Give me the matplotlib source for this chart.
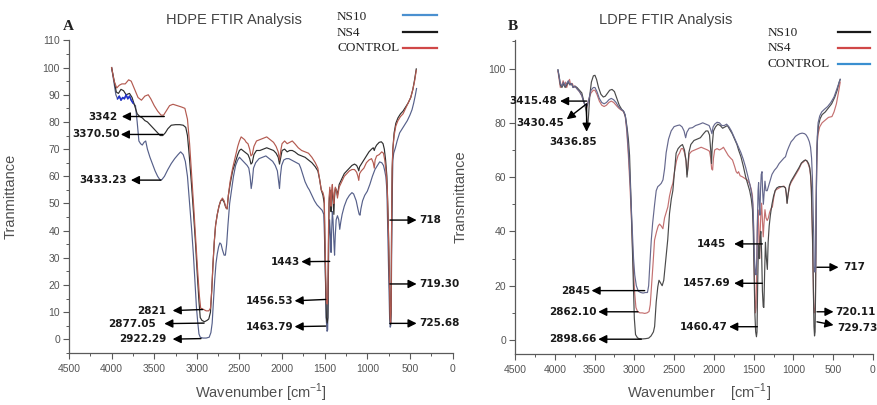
import numpy as np
import matplotlib
matplotlib.use('Agg')
import matplotlib.pyplot as plt
from matplotlib.lines import Line2D
from matplotlib.ticker import MultipleLocator

W, H = 877, 405

# ---- panel A: HDPE spectra, (wavenumber cm-1, transmittance)
hdpe_control = [
    (4000, 100), (3970, 95), (3940, 92.5), (3910, 93.5), (3880, 94), (3840, 94), (3800, 95.5),
    (3770, 95), (3730, 92), (3690, 89), (3650, 88), (3610, 89.5), (3570, 90), (3540, 88.5),
    (3500, 86), (3460, 84), (3420, 82.5), (3390, 82.5), (3360, 84), (3320, 86), (3280, 86.5),
    (3230, 86), (3180, 85.5), (3140, 85), (3110, 81), (3085, 72), (3060, 60), (3035, 48),
    (3010, 35), (2990, 25), (2970, 16), (2955, 11.5), (2920, 11), (2890, 10.5), (2860, 10.5),
    (2840, 11.5), (2825, 18), (2810, 28), (2795, 36), (2780, 42), (2760, 46), (2740, 49),
    (2720, 51), (2700, 52), (2680, 51), (2660, 48.5), (2645, 48), (2630, 53), (2610, 58),
    (2580, 63), (2550, 67), (2520, 71), (2500, 73), (2480, 74.5), (2460, 74), (2440, 73.5),
    (2420, 72.5), (2400, 72), (2380, 70), (2365, 67.5), (2350, 68), (2330, 71), (2300, 73),
    (2260, 73.5), (2220, 74), (2180, 74.5), (2140, 73.5), (2100, 72.5), (2070, 71), (2045, 69),
    (2030, 66), (2015, 69.5), (2000, 72), (1970, 73), (1940, 72), (1910, 72.5), (1880, 73),
    (1850, 72), (1810, 70.5), (1770, 69.5), (1730, 69), (1690, 68.5), (1650, 67), (1610, 65),
    (1580, 63), (1560, 59), (1540, 55), (1520, 54), (1505, 52), (1492, 30), (1480, 14),
    (1470, 13), (1462, 16), (1455, 40), (1448, 52), (1440, 56), (1432, 53), (1425, 49),
    (1418, 55), (1410, 57), (1400, 52), (1392, 50), (1385, 54), (1375, 56), (1362, 55),
    (1350, 52), (1330, 56), (1300, 58), (1270, 60), (1240, 61), (1210, 62), (1180, 62.5),
    (1150, 62.5), (1125, 61.5), (1110, 60), (1100, 58.5), (1090, 61), (1070, 62), (1040, 63),
    (1010, 65), (980, 66), (950, 66.5), (930, 65), (918, 63), (908, 66), (890, 67.5),
    (860, 68), (830, 69), (810, 68.5), (795, 66), (780, 62), (765, 55), (752, 40), (740, 22),
    (732, 8), (726, 6), (720, 12), (714, 45), (708, 63), (700, 70), (685, 75), (665, 78.5),
    (640, 80.5), (610, 82), (580, 83), (550, 85), (520, 87), (490, 89), (465, 92), (445, 95),
    (425, 99),
]
hdpe_ns4 = [
    (4000, 100), (3970, 95), (3945, 91), (3920, 90.5), (3890, 92), (3860, 91.5), (3830, 90),
    (3790, 90.5), (3760, 89), (3730, 86), (3700, 83), (3670, 82), (3640, 81.5), (3610, 80.5),
    (3580, 80), (3550, 79), (3520, 78), (3490, 77), (3460, 76), (3430, 75), (3400, 75),
    (3370, 76), (3340, 77.5), (3300, 78.8), (3250, 79), (3200, 79), (3160, 78.8), (3130, 78),
    (3110, 75), (3090, 68), (3065, 58), (3040, 47), (3015, 35), (2995, 24), (2975, 14),
    (2960, 8), (2940, 7), (2910, 6.5), (2880, 7), (2860, 7.5), (2840, 10), (2825, 18),
    (2810, 28), (2795, 36), (2780, 42), (2760, 46), (2740, 49), (2720, 51), (2700, 51.5),
    (2680, 50.5), (2660, 48.5), (2645, 48), (2630, 53), (2610, 57), (2580, 62), (2550, 65),
    (2520, 68), (2500, 69.5), (2480, 70), (2460, 69.5), (2440, 69), (2420, 68.5), (2400, 68),
    (2380, 66.5), (2365, 64.5), (2350, 65), (2330, 68), (2300, 69.5), (2260, 69.5), (2220, 70),
    (2180, 70.5), (2140, 70), (2100, 69.5), (2070, 68.5), (2045, 67), (2030, 64.5), (2015, 67),
    (2000, 69.5), (1970, 70), (1940, 69), (1910, 69.5), (1880, 69.5), (1850, 69), (1810, 68),
    (1770, 67.5), (1730, 67), (1690, 66), (1650, 65), (1610, 63.5), (1580, 62), (1560, 59),
    (1540, 55), (1520, 53), (1505, 50), (1492, 25), (1480, 8), (1470, 6), (1462, 8),
    (1455, 35), (1448, 50), (1440, 55), (1432, 52), (1425, 47), (1418, 53), (1410, 55),
    (1400, 50), (1392, 46), (1385, 52), (1375, 55.5), (1362, 55), (1350, 53), (1330, 57),
    (1300, 59), (1270, 61), (1240, 62), (1210, 63), (1180, 64), (1150, 64.5), (1125, 64),
    (1110, 63), (1100, 62), (1090, 63.5), (1070, 64.5), (1040, 66), (1010, 67.5), (980, 69),
    (950, 70), (930, 70.5), (918, 69.5), (908, 70.5), (890, 71.5), (860, 72.5), (835, 72.7),
    (815, 72), (800, 70), (785, 66), (770, 60), (755, 45), (742, 25), (733, 8), (727, 5.5),
    (721, 10), (715, 40), (708, 62), (700, 70), (685, 76), (665, 79.5), (640, 81.5),
    (610, 83), (580, 84), (550, 85.5), (520, 87), (490, 89), (465, 92), (445, 95.5), (425, 99.5),
]
hdpe_ns10 = [
    (4000, 100), (3975, 95), (3950, 90), (3930, 88.5), (3910, 89.5), (3890, 88), (3870, 89),
    (3850, 88.5), (3830, 90), (3810, 88.5), (3790, 89.5), (3770, 88), (3750, 87), (3720, 86),
    (3700, 80), (3680, 73), (3660, 72), (3640, 71.5), (3620, 72.5), (3600, 73), (3580, 70),
    (3550, 67), (3520, 64.5), (3490, 62), (3460, 60), (3430, 58.6), (3410, 58.8), (3380, 60),
    (3340, 62.5), (3300, 64.7), (3260, 66.5), (3220, 68), (3190, 69), (3160, 68), (3135, 65.5),
    (3110, 60), (3085, 50), (3060, 40), (3040, 31), (3020, 20), (3005, 12), (2990, 6.5),
    (2975, 2), (2960, 0.8), (2930, 0.5), (2890, 0.5), (2855, 0.8), (2835, 2.5), (2820, 6),
    (2805, 14), (2790, 22), (2775, 28), (2760, 31.5), (2745, 34), (2730, 35.5), (2715, 35),
    (2700, 33), (2680, 31), (2665, 31), (2650, 35), (2635, 42), (2615, 50), (2590, 55.5),
    (2570, 60), (2545, 64), (2520, 66), (2500, 67), (2470, 66), (2440, 65), (2410, 64),
    (2390, 63), (2375, 60), (2362, 55.5), (2350, 58), (2335, 63), (2310, 65), (2270, 66.5),
    (2230, 67), (2190, 67.5), (2150, 66.5), (2110, 65.5), (2080, 64), (2055, 62), (2040, 58),
    (2030, 55.5), (2020, 60), (2005, 64), (1980, 66), (1950, 66.5), (1920, 66.5), (1890, 66),
    (1860, 65.5), (1830, 65), (1800, 64.5), (1780, 63), (1760, 61), (1730, 58), (1700, 56),
    (1680, 55), (1650, 53), (1620, 51), (1590, 49.5), (1560, 48.5), (1530, 47.5), (1510, 46),
    (1495, 30), (1483, 8), (1472, 3), (1465, 3.5), (1458, 20), (1450, 38), (1442, 44),
    (1432, 38), (1425, 32), (1418, 40), (1410, 47), (1402, 44), (1392, 36), (1384, 31),
    (1376, 38), (1365, 44), (1350, 45.5), (1335, 44), (1323, 40.5), (1312, 43), (1295, 46),
    (1270, 49), (1240, 51.5), (1210, 53), (1180, 54), (1160, 53.5), (1130, 51), (1110, 48),
    (1095, 46), (1085, 45.7), (1075, 48), (1055, 51), (1030, 53), (1000, 54.5), (970, 57),
    (940, 60), (910, 62.5), (880, 64), (855, 65.3), (830, 65), (810, 64), (795, 62),
    (782, 59.8), (770, 55), (760, 40), (748, 22), (738, 8), (731, 4.5), (725, 5), (719, 12),
    (713, 35), (706, 55), (700, 66), (690, 68.5), (670, 70.5), (650, 73), (620, 76),
    (590, 77.5), (560, 79), (530, 80.5), (500, 82.5), (475, 84.5), (455, 87), (435, 90),
    (422, 92.3),
]

# ---- panel B: LDPE spectra
ldpe_ns10 = [
    (3960, 99.5), (3945, 97), (3930, 94), (3910, 93), (3890, 94.5), (3870, 93), (3850, 94),
    (3830, 95), (3810, 94), (3790, 94.5), (3770, 93), (3750, 93.5), (3720, 93), (3690, 92),
    (3660, 91), (3640, 88.5), (3620, 86.5), (3605, 84), (3595, 80), (3585, 79), (3575, 83),
    (3560, 90), (3540, 95), (3515, 97.3), (3495, 97.5), (3475, 96), (3450, 93), (3420, 90.5),
    (3390, 89.5), (3365, 89.8), (3340, 90.8), (3310, 92), (3280, 92.3), (3250, 91.5),
    (3220, 89), (3190, 86.5), (3160, 85), (3130, 84), (3110, 82), (3090, 78), (3075, 74),
    (3060, 68), (3040, 50), (3016, 25), (3000, 8), (2985, 2), (2960, 0.8), (2940, 0.5),
    (2900, 0.4), (2860, 0.5), (2820, 0.7), (2790, 1.5), (2760, 3), (2745, 5), (2725, 14),
    (2705, 19.6), (2690, 22), (2670, 21), (2650, 20), (2630, 22), (2610, 28), (2580, 37),
    (2558, 46.6), (2535, 52), (2516, 55), (2495, 62), (2475, 68.8), (2450, 70.5), (2420, 71.5),
    (2395, 72), (2370, 70), (2350, 66), (2338, 60), (2328, 63), (2315, 69), (2290, 72),
    (2250, 73.5), (2210, 74), (2170, 74.5), (2130, 76), (2100, 77), (2075, 77), (2055, 75.5),
    (2040, 70), (2030, 65), (2020, 72), (2005, 77), (1980, 78.5), (1950, 79.5), (1920, 79),
    (1890, 78), (1860, 78.5), (1830, 79), (1800, 77.5), (1770, 76), (1740, 74), (1710, 72),
    (1690, 70), (1660, 67.5), (1630, 64), (1600, 60), (1575, 57.5), (1550, 55), (1530, 52),
    (1515, 48), (1505, 40), (1495, 25), (1485, 10), (1475, 3), (1465, 1.2), (1458, 3),
    (1450, 20), (1440, 35), (1428, 30), (1418, 38), (1410, 40), (1400, 32), (1390, 18),
    (1380, 12.3), (1372, 12), (1362, 25), (1352, 36), (1340, 30), (1328, 26), (1318, 36),
    (1305, 42), (1290, 46), (1270, 50), (1250, 53), (1230, 55), (1210, 56), (1180, 56.5),
    (1150, 56.5), (1120, 56.5), (1100, 56), (1090, 54), (1080, 50.3), (1070, 53), (1050, 57),
    (1030, 58.5), (1010, 59.5), (990, 60.5), (960, 62), (930, 63.5), (900, 65.2), (870, 66),
    (850, 66.3), (830, 66), (810, 65), (795, 63.5), (785, 61), (775, 56), (768, 48), (760, 38),
    (750, 20), (742, 5), (735, 1.5), (728, 3), (721, 20), (714, 50), (706, 68), (698, 75),
    (685, 79), (665, 81.5), (640, 83), (600, 84), (560, 85.5), (520, 87), (480, 89.5),
    (450, 92), (425, 95), (412, 96),
]
ldpe_ns4 = [
    (3960, 99), (3945, 96), (3930, 93), (3910, 94), (3895, 95.5), (3880, 93.5), (3865, 95),
    (3850, 93), (3835, 94.5), (3815, 96), (3800, 94), (3780, 94.5), (3760, 93), (3740, 93.5),
    (3720, 92.5), (3690, 91.5), (3660, 90), (3640, 88), (3620, 86.5), (3605, 85), (3595, 86),
    (3575, 88.5), (3545, 91), (3515, 92), (3495, 92), (3470, 90.5), (3440, 88), (3410, 86.5),
    (3380, 86), (3350, 86.5), (3320, 87.5), (3290, 88), (3260, 87.5), (3230, 86.5),
    (3200, 85.5), (3170, 84.8), (3140, 84.3), (3115, 82.5), (3095, 77), (3075, 68), (3055, 57),
    (3040, 47), (3025, 36), (3010, 25), (2995, 17), (2980, 12), (2960, 10.5), (2930, 10),
    (2900, 10), (2870, 9.8), (2840, 10), (2815, 10.5), (2800, 13), (2787, 18.4), (2765, 28),
    (2746, 36.8), (2720, 40), (2700, 42), (2683, 42.7), (2662, 42), (2641, 41), (2620, 45),
    (2600, 47), (2579, 49), (2558, 53), (2535, 56), (2516, 57.7), (2495, 62), (2470, 66),
    (2450, 68), (2433, 68.8), (2410, 70.5), (2390, 70.5), (2370, 69), (2350, 66), (2338, 61),
    (2325, 64), (2310, 68.5), (2280, 69.5), (2240, 70), (2200, 70.5), (2160, 71), (2120, 70.5),
    (2080, 70), (2055, 69.5), (2040, 67), (2028, 63), (2016, 62.6), (2005, 67), (1990, 70),
    (1960, 70.5), (1930, 70), (1900, 70.5), (1880, 71), (1850, 69.5), (1820, 68), (1790, 67),
    (1766, 66.3), (1740, 64), (1720, 62), (1704, 61.4), (1690, 62), (1670, 60.5), (1641, 60.1),
    (1610, 59.5), (1579, 58.9), (1550, 57.5), (1530, 55.5), (1515, 53), (1505, 45), (1495, 30),
    (1485, 15), (1478, 10), (1470, 12), (1462, 25), (1455, 40), (1448, 48), (1440, 45),
    (1432, 35), (1425, 30), (1418, 40), (1410, 46), (1400, 50.4), (1390, 44), (1380, 38),
    (1370, 43), (1358, 48), (1345, 45), (1330, 44), (1315, 45), (1300, 47), (1280, 48.5),
    (1265, 49), (1250, 52), (1230, 55), (1210, 55.5), (1180, 56), (1150, 56.5), (1120, 56.7),
    (1100, 56), (1090, 53.5), (1080, 50.5), (1070, 53), (1050, 56.5), (1030, 58), (1010, 59),
    (990, 60), (960, 61.5), (930, 63), (900, 65), (870, 65.7), (850, 66.3), (830, 65.8),
    (810, 64.5), (795, 63), (785, 60.5), (775, 55), (768, 46), (760, 36), (752, 22), (745, 12),
    (738, 10), (731, 10.5), (724, 14), (717, 40), (710, 62), (702, 72), (690, 76), (670, 78.5),
    (640, 80), (600, 81), (560, 82), (516, 82.3), (490, 84), (460, 87), (435, 91), (412, 95),
]
ldpe_control = [
    (3960, 99.5), (3945, 97), (3930, 94.5), (3910, 93.5), (3890, 95), (3870, 93.5),
    (3850, 94.5), (3830, 95.5), (3810, 94), (3790, 94.5), (3770, 93), (3750, 93.5),
    (3720, 92.5), (3690, 91.5), (3660, 90), (3640, 88), (3620, 86.5), (3605, 86), (3590, 86.5),
    (3570, 89), (3545, 92), (3515, 93), (3495, 93), (3470, 91.5), (3440, 89), (3410, 87.5),
    (3380, 87), (3350, 87.5), (3320, 88.5), (3290, 89), (3260, 88.5), (3230, 87.5), (3200, 86),
    (3170, 85), (3140, 84.5), (3115, 83), (3095, 78), (3075, 70), (3055, 60), (3040, 50),
    (3025, 40), (3010, 30), (2995, 24), (2975, 20), (2950, 18), (2920, 17.5), (2890, 17.3),
    (2860, 17.5), (2835, 17.5), (2820, 20), (2805, 28), (2787, 36.8), (2770, 43), (2745, 50),
    (2725, 55), (2705, 56.5), (2685, 57), (2662, 57.7), (2640, 59), (2620, 63), (2600, 69),
    (2570, 74), (2537, 77), (2500, 78.6), (2460, 79), (2430, 79.2), (2400, 78.5), (2375, 77),
    (2355, 74.5), (2340, 76.5), (2310, 78), (2270, 78.2), (2230, 79), (2180, 79.5), (2140, 80),
    (2100, 79.5), (2060, 79), (2040, 77.5), (2025, 76), (2010, 78.5), (1990, 79.5),
    (1960, 80.2), (1930, 80), (1900, 79), (1870, 79), (1840, 79.5), (1810, 78.5), (1780, 77),
    (1750, 75), (1720, 73), (1690, 71), (1660, 69), (1630, 66.5), (1600, 63.5), (1570, 60),
    (1545, 57), (1525, 54), (1510, 50), (1500, 42), (1490, 30), (1480, 25), (1470, 24),
    (1460, 30), (1452, 45), (1445, 55), (1438, 58), (1430, 50), (1422, 46), (1414, 55),
    (1405, 61), (1395, 62), (1388, 55), (1378, 50), (1368, 54), (1358, 58.5), (1345, 55),
    (1330, 55), (1310, 57), (1290, 59), (1270, 61), (1240, 62.5), (1210, 63.5), (1180, 65),
    (1150, 66), (1120, 67), (1100, 67.5), (1080, 69.5), (1060, 71), (1030, 73), (1000, 74),
    (975, 75), (950, 75.5), (920, 76), (890, 76.2), (860, 76), (840, 75.5), (820, 74.5),
    (800, 73), (785, 71), (772, 67), (762, 60), (752, 48), (745, 38), (738, 27), (730, 25),
    (722, 26), (715, 45), (708, 65), (700, 75), (690, 80), (670, 82.5), (645, 84), (610, 85),
    (570, 86), (530, 87.5), (490, 89.5), (460, 92), (435, 94), (412, 96),
]

# peak labels: text, (wn, T) on the curve, (wn, T) of the arrow tip, (wn, T) of the text, alignment
hdpe_peaks = [
    ('3342', (3382, 82), (3880, 82), (3930, 82), 'right'),
    ('3370.50', (3400, 75.4), (3892, 75.4), (3900, 75.4), 'right'),
    ('3433.23', (3421, 58.6), (3774, 58.6), (3820, 58.6), 'right'),
    ('2821', (2931, 11), (3284, 10.6), (3362, 10.6), 'right'),
    ('2877.05', (2915, 6), (3382, 5.8), (3480, 5.8), 'right'),
    ('2922.29', (2951, 0.3), (3284, 0.1), (3362, 0.1), 'right'),
    ('1443', (1441, 28.7), (1774, 28.6), (1794, 28.6), 'right'),
    ('1456.53', (1488, 14.7), (1853, 14.2), (1870, 14.2), 'right'),
    ('1463.79', (1488, 4.9), (1853, 4.7), (1870, 4.7), 'right'),
    ('718', (735, 43.9), (421, 43.9), (394, 43.9), 'left'),
    ('719.30', (735, 20.4), (421, 20.4), (394, 20.4), 'left'),
    ('725.68', (735, 5.9), (421, 5.9), (394, 5.9), 'left'),
]
ldpe_peaks = [
    ('3415.48', (3600, 88), (3934, 88), (3975, 88), 'right'),
    ('3430.45', (3600, 87), (3850, 81.3), (3880, 79.8), 'right'),
    ('3436.85', (3600, 86.9), (3600, 76.7), (3775, 73), 'center'),
    ('2845', (2870, 18.2), (3538, 18.2), (3558, 18.2), 'right'),
    ('2862.10', (2954, 10.4), (3454, 10.4), (3470, 10.4), 'right'),
    ('2898.66', (2912, 0.3), (3454, 0.3), (3470, 0.3), 'right'),
    ('1445', (1391, 35.4), (1746, 35.4), (1850, 35.4), 'right'),
    ('1457.69', (1391, 20.9), (1746, 20.9), (1796, 20.9), 'right'),
    ('1460.47', (1454, 4.9), (1808, 4.9), (1829, 4.9), 'right'),
    ('717', (704, 26.8), (433, 26.8), (371, 26.8), 'left'),
    ('720.11', (704, 10.4), (496, 10.4), (475, 10.4), 'left'),
    ('729.73', (704, 6.7), (496, 5.5), (454, 4.4), 'left'),
]

SANS = 'Liberation Sans'
SERIF = 'Liberation Serif'
AXIS_GREY = '#5a5a5a'


def fxy(px, py):
    """pixel position in the 877x405 picture -> figure fraction"""
    return px / W, 1 - py / H


def style_axes(ax, ymax, ymajor, yminor, ytop):
    ax.set_xlim(4500, 0)
    ax.set_ylim(-5, ymax)
    ax.xaxis.set_major_locator(MultipleLocator(500))
    ax.xaxis.set_minor_locator(MultipleLocator(250))
    ax.set_yticks(np.arange(0, ytop + 1, ymajor))
    ax.yaxis.set_minor_locator(MultipleLocator(yminor))
    for side in ('top', 'right'):
        ax.spines[side].set_visible(False)
    for side in ('left', 'bottom'):
        ax.spines[side].set_color(AXIS_GREY)
        ax.spines[side].set_linewidth(0.9)
    ax.tick_params(which='major', direction='out', length=4, width=0.8,
                   color=AXIS_GREY, labelcolor='#555555', labelsize=7.5)
    ax.tick_params(which='minor', direction='out', length=2, width=0.7,
                   color=AXIS_GREY)
    ax.tick_params(axis='x', pad=4)
    ax.tick_params(axis='y', pad=2.5)
    for lab in ax.get_xticklabels() + ax.get_yticklabels():
        lab.set_family(SANS)


def draw_series(ax, pts, color, lw=0.85):
    arr = np.array(pts, dtype=float)
    ax.plot(arr[:, 0], arr[:, 1], color=color, lw=lw)


def label_peaks(ax, peaks):
    for text, tail, tip, pos, ha in peaks:
        ax.annotate('', xy=tip, xytext=tail,
                    arrowprops=dict(arrowstyle='-|>,head_length=0.5,head_width=0.25',
                                    color='black', lw=1.0, shrinkA=0, shrinkB=0,
                                    mutation_scale=10))
        ax.text(pos[0], pos[1], text, ha=ha, va='center', fontsize=7.5,
                fontweight='bold', family='DejaVu Sans', color='#1a1a1a')


def legend_rows(fig, text_x, line_x0, line_x1, rows):
    for label, color, ty, ly in rows:
        fig.text(*fxy(text_x, ty), label, ha='left', va='center',
                 family=SERIF, fontsize=9.5, color='#222222')
        x0, y0 = fxy(line_x0, ly)
        x1, _ = fxy(line_x1, ly)
        fig.add_artist(Line2D([x0, x1], [y0, y0], color=color, lw=1.6,
                              transform=fig.transFigure))


fig = plt.figure(figsize=(W / 100, H / 100), dpi=100)
fig.patch.set_facecolor('white')

# ---- panel A
ax1 = fig.add_axes([69 / W, (H - 353) / H, (452.5 - 69) / W, (353 - 40.4) / H])
style_axes(ax1, 110, 10, 5, 110)
draw_series(ax1, hdpe_ns10, '#56608a')
draw_series(ax1, hdpe_ns4, '#2e2e2e')
draw_series(ax1, hdpe_control, '#b35a50')
ns10_start = np.array([p for p in hdpe_ns10 if 3740 <= p[0] <= 3940])
ax1.plot(ns10_start[:, 0], ns10_start[:, 1], color='#2233cc', lw=1.1)
label_peaks(ax1, hdpe_peaks)
ax1.set_ylabel('Tranmittance', family=SANS, fontsize=10.5, color='#505050')
ax1.yaxis.set_label_coords(-0.133, 0.5)
ax1.set_xlabel(r'Wavenumber [cm$^{\mathregular{-1}}$]', family=SANS, fontsize=10.5,
               color='#505050')
ax1.xaxis.set_label_coords(0.5, -0.127)
ax1.xaxis.label.set_verticalalignment('center')

# ---- panel B
ax2 = fig.add_axes([515 / W, (H - 353.6) / H, 358 / W, (353.6 - 40) / H])
style_axes(ax2, 110.5, 20, 10, 100)
draw_series(ax2, ldpe_ns4, '#c47070')
draw_series(ax2, ldpe_ns10, '#4a4a4a')
draw_series(ax2, ldpe_control, '#66698e')
label_peaks(ax2, ldpe_peaks)
ax2.set_ylabel('Transmittance', family=SANS, fontsize=10.5, color='#505050')
ax2.yaxis.set_label_coords(-0.131, 0.5)
ax2.set_xlabel(r'Wavenumber    [cm$^{\mathregular{-1}}$]', family=SANS, fontsize=10.5,
               color='#505050')
ax2.xaxis.set_label_coords(0.514, -0.125)
ax2.xaxis.label.set_verticalalignment('center')

# ---- titles, panel letters, legends
fig.text(*fxy(234, 20), 'HDPE FTIR Analysis', ha='center', va='center',
         family=SANS, fontsize=10.5, color='#444444')
fig.text(*fxy(666, 20), 'LDPE FTIR Analysis', ha='center', va='center',
         family=SANS, fontsize=10.5, color='#444444')
fig.text(*fxy(68, 27), 'A', ha='center', va='center', family=SERIF,
         fontsize=11, fontweight='bold', color='#222222')
fig.text(*fxy(513, 27), 'B', ha='center', va='center', family=SERIF,
         fontsize=11, fontweight='bold', color='#222222')

legend_rows(fig, 337, 403, 437, [
    ('NS10', '#4a90d0', 17, 15),
    ('NS4', '#1a1a1a', 32.5, 32),
    ('CONTROL', '#d04848', 48, 47.7),
])
legend_rows(fig, 768, 838, 870, [
    ('NS10', '#1a1a1a', 32.5, 32.3),
    ('NS4', '#d04848', 48, 47.7),
    ('CONTROL', '#3a8fd0', 64, 64),
])

fig.savefig('out.png', dpi=100, facecolor='white')
